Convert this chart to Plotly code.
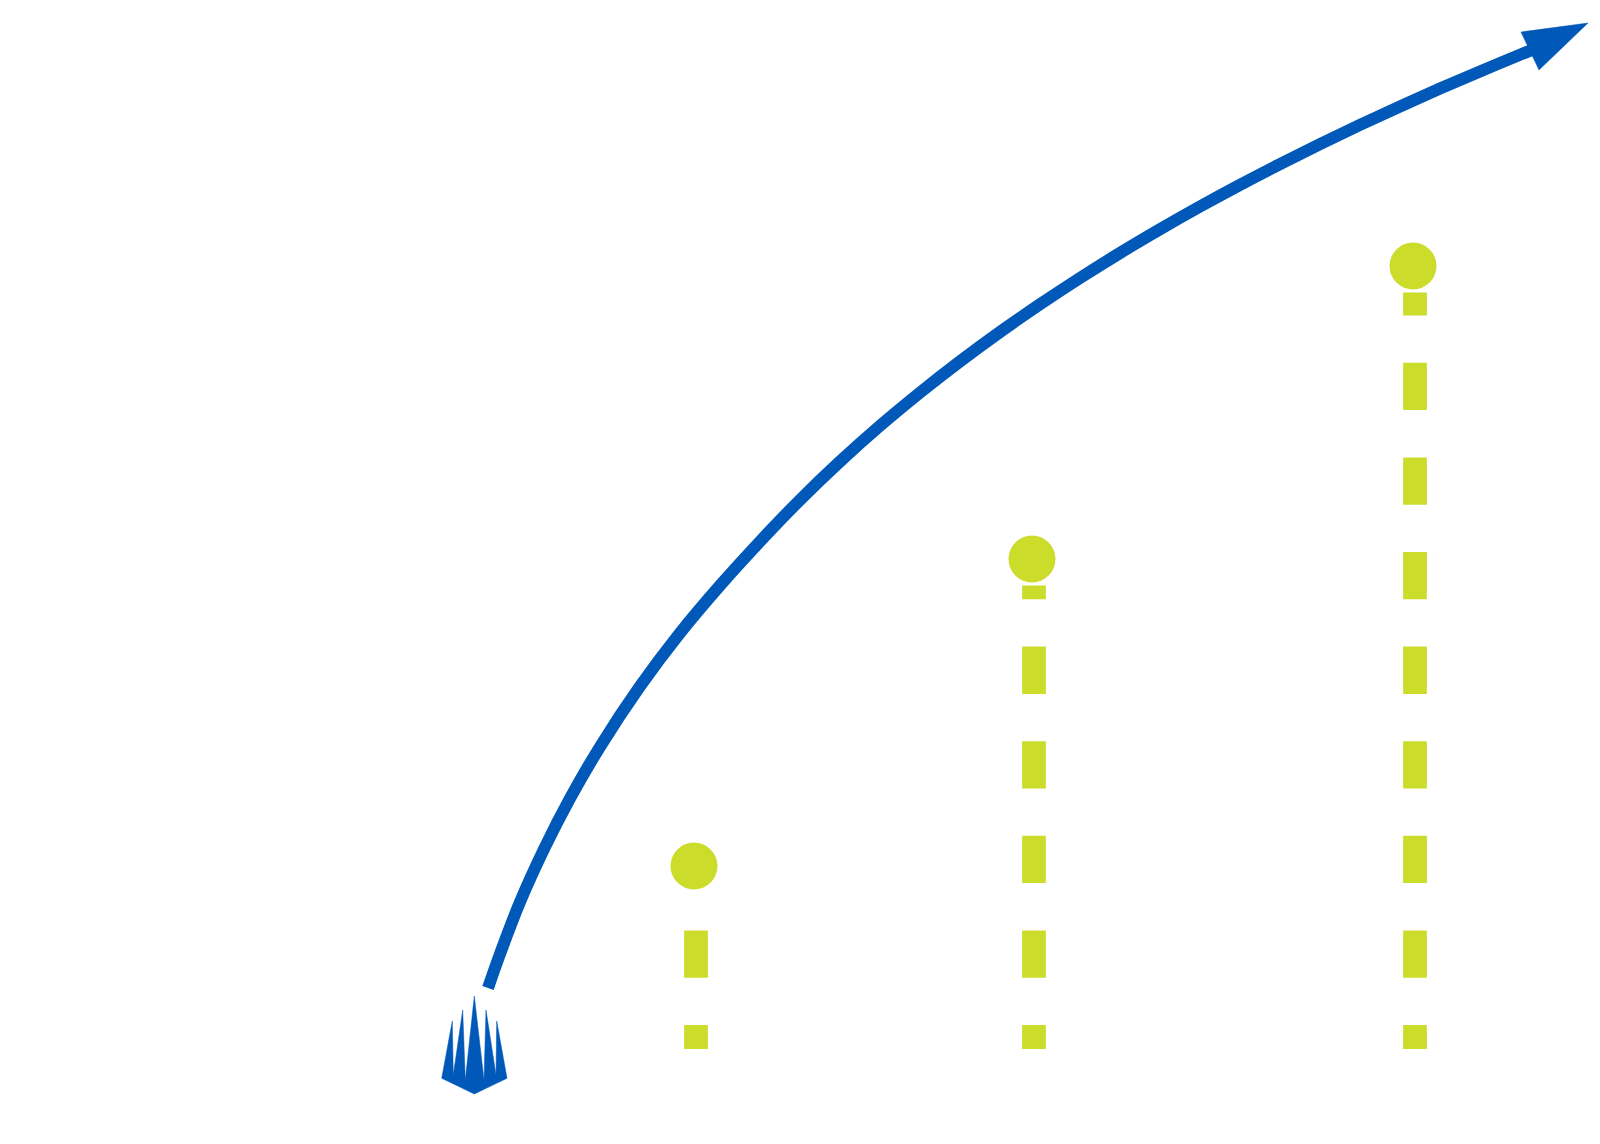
import plotly.graph_objects as go

# ---------------- data ----------------
# lollipop markers: horizontal position and value above the baseline
stem_x = [696, 1034, 1415]
stem_values = [182, 489, 782]

# rising trend curve (x, value)
trend_x = [488, 500, 520, 545, 570, 600, 640, 680, 720, 760, 800, 840, 880, 920,
           960, 1000, 1040, 1080, 1120, 1160, 1200, 1240, 1280, 1320, 1360, 1400,
           1440, 1480, 1520, 1532]
trend_y = [60, 94, 146, 201, 249.6, 301.2, 361.7, 415, 462.5, 506.5, 548.1, 586.5,
           622.2, 655.4, 686.6, 716.0, 743.7, 770.0, 795.0, 818.7, 841.4, 863.1,
           883.9, 903.9, 923.1, 941.5, 959.4, 976.6, 993.2, 998.1]

# arrow head at the end of the trend curve
arrow_head_x = [1588, 1521, 1539, 1588]
arrow_head_y = [1025, 1016, 978, 1025]

# flame / origin icon at the start of the curve
origin_icon_x = [441.7, 452.3, 453.3, 462.7, 465.3, 474.3, 484.0, 486.0, 496.0, 496.7, 507.0, 474.3, 441.7]
origin_icon_y = [-30.3, 27.0, -27.0, 38.0, -32.0, 52.0, -32.0, 38.0, -27.0, 27.0, -30.3, -46.0, -30.3]

# ---------------- style ----------------
BLUE = "#0058B8"
GREEN = "#CBDC2A"
DOT_SIZE = 47
STEM_WIDTH = 23.7
DASH = 47.3
STEM_BASE = -1
STEM_GAP_TO_DOT = 3

dash_parts = [24.0] + [DASH] * 19
dash_str = ",".join(f"{d:.1f}px" for d in dash_parts)

fig = go.Figure()

# dashed stems (drawn from the baseline upward to just below each dot)
for x, v in zip(stem_x, stem_values):
    fig.add_trace(go.Scatter(
        x=[x, x], y=[STEM_BASE, v - DOT_SIZE / 2 - STEM_GAP_TO_DOT],
        mode="lines",
        line=dict(color=GREEN, width=STEM_WIDTH, dash=dash_str),
        hoverinfo="skip",
    ))

# dots
fig.add_trace(go.Scatter(
    x=[x - 2 for x in stem_x], y=stem_values, mode="markers",
    marker=dict(color=GREEN, size=DOT_SIZE, line=dict(width=0)),
))

# trend curve
fig.add_trace(go.Scatter(
    x=trend_x, y=trend_y, mode="lines",
    line=dict(color=BLUE, width=12, shape="spline", smoothing=1.0, simplify=False),
))

# arrow head
fig.add_trace(go.Scatter(
    x=arrow_head_x, y=arrow_head_y, mode="lines",
    fill="toself", fillcolor=BLUE, line=dict(color=BLUE, width=0.5),
))

# origin icon
fig.add_trace(go.Scatter(
    x=origin_icon_x, y=origin_icon_y, mode="lines",
    fill="toself", fillcolor=BLUE, line=dict(color=BLUE, width=0.5),
))

fig.update_layout(
    width=1600, height=1144,
    margin=dict(l=0, r=0, t=0, b=0),
    paper_bgcolor="white", plot_bgcolor="white",
    showlegend=False,
    xaxis=dict(range=[0, 1600], visible=False, fixedrange=True),
    yaxis=dict(range=[-96, 1048], visible=False, fixedrange=True),
)

fig.write_html("out.html", config={"displayModeBar": False},
               post_script="document.body.style.margin='0';")
